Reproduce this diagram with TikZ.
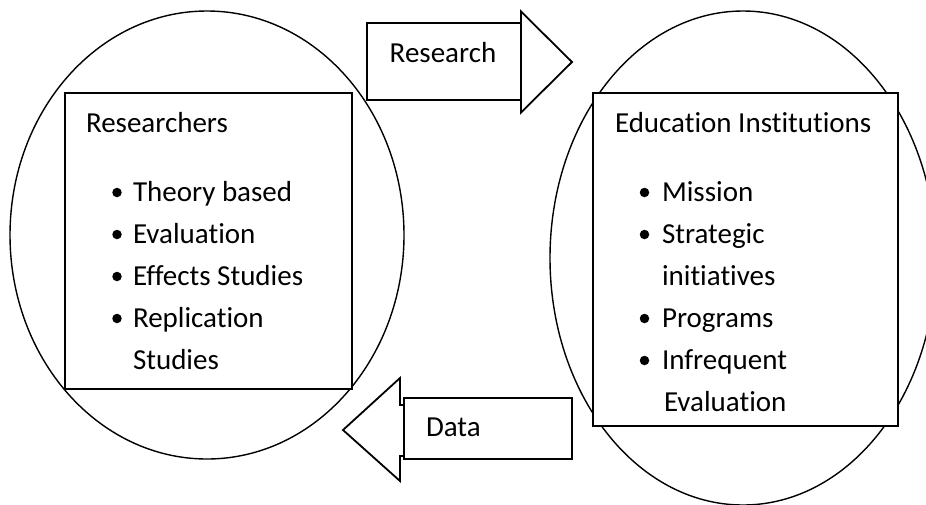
\documentclass[tikz,border=0pt]{standalone}
\usepackage{fontspec}
\setmainfont{Carlito}[Ligatures={NoCommon,NoRare}]
\usetikzlibrary{shapes.geometric,calc}

\begin{document}
\begin{tikzpicture}[x=1pt,y=-1pt,
  every node/.style={inner sep=0pt,outer sep=0pt},
  txt/.style={anchor=base west,font=\fontsize{29}{35}\selectfont},
  ctxt/.style={anchor=base,font=\fontsize{29}{35}\selectfont},
  bul/.style={circle,fill=black,minimum size=9.5pt},
  oval/.style={ellipse,draw=black,line width=1.4pt},
  panel/.style={rectangle,draw=black,fill=white,line width=1.8pt},
  arrowbody/.style={draw=black,fill=white,line width=1.8pt,line join=miter}
]
\useasboundingbox (0,0) rectangle (926,504);

% the two groups
\node[oval,minimum width=394pt,minimum height=448pt] (resell) at (207,235) {};
\node[oval,minimum width=386pt,minimum height=494pt] (eduell) at (743,258) {};

% researchers panel
\node[panel,minimum width=287pt,minimum height=296pt] (respanel) at (208.5,241) {};
\node[txt] (restitle) at (86,132) {Researchers};
\node[bul] (rb1) at (117,192.5) {};
\node[txt] (ri1) at (133,201) {Theory based};
\node[bul] (rb2) at (117,234.5) {};
\node[txt] (ri2) at (133,243) {Evaluation};
\node[bul] (rb3) at (117,276.5) {};
\node[txt] (ri3) at (133,285) {Effects Studies};
\node[bul] (rb4) at (117,318.5) {};
\node[txt] (ri4) at (133,327) {Replication};
\node[txt] (ri5) at (133,369) {Studies};

% education institutions panel
\node[panel,minimum width=305pt,minimum height=333pt] (edupanel) at (745.5,259.5) {};
\node[txt] (edutitle) at (615,132) {Education Institutions};
\node[bul] (eb1) at (644.5,192.5) {};
\node[txt] (ei1) at (662,201) {Mission};
\node[bul] (eb2) at (644.5,234.5) {};
\node[txt] (ei2) at (662,243) {Strategic};
\node[txt] (ei3) at (662,285) {initiatives};
\node[bul] (eb3) at (644.5,318.5) {};
\node[txt] (ei4) at (662,327) {Programs};
\node[bul] (eb4) at (644.5,360.5) {};
\node[txt] (ei5) at (662,369) {Infrequent};
\node[txt] (ei6) at (664,411) {Evaluation};

% research arrow (pointing right)
\node[panel,minimum width=154pt,minimum height=77pt] (resbox) at (444,61.5) {};
\coordinate (restip) at (572,62);
\draw[arrowbody] ($(resbox.east)+(0,-50)$) -- (restip) -- ($(resbox.east)+(0,51)$) -- cycle;
\node[ctxt] (reslabel) at (443,62) {Research};

% data arrow (pointing left)
\coordinate (datatip) at (343,430);
\draw[arrowbody] (410,405) -- (400,405) -- (400,378) -- (datatip) -- (400,481) -- (400,456) -- (410,456);
\node[panel,minimum width=168pt,minimum height=61pt] (databox) at (488,428.5) {};
\node[txt] (datalabel) at (426,436) {Data};
\end{tikzpicture}
\end{document}
